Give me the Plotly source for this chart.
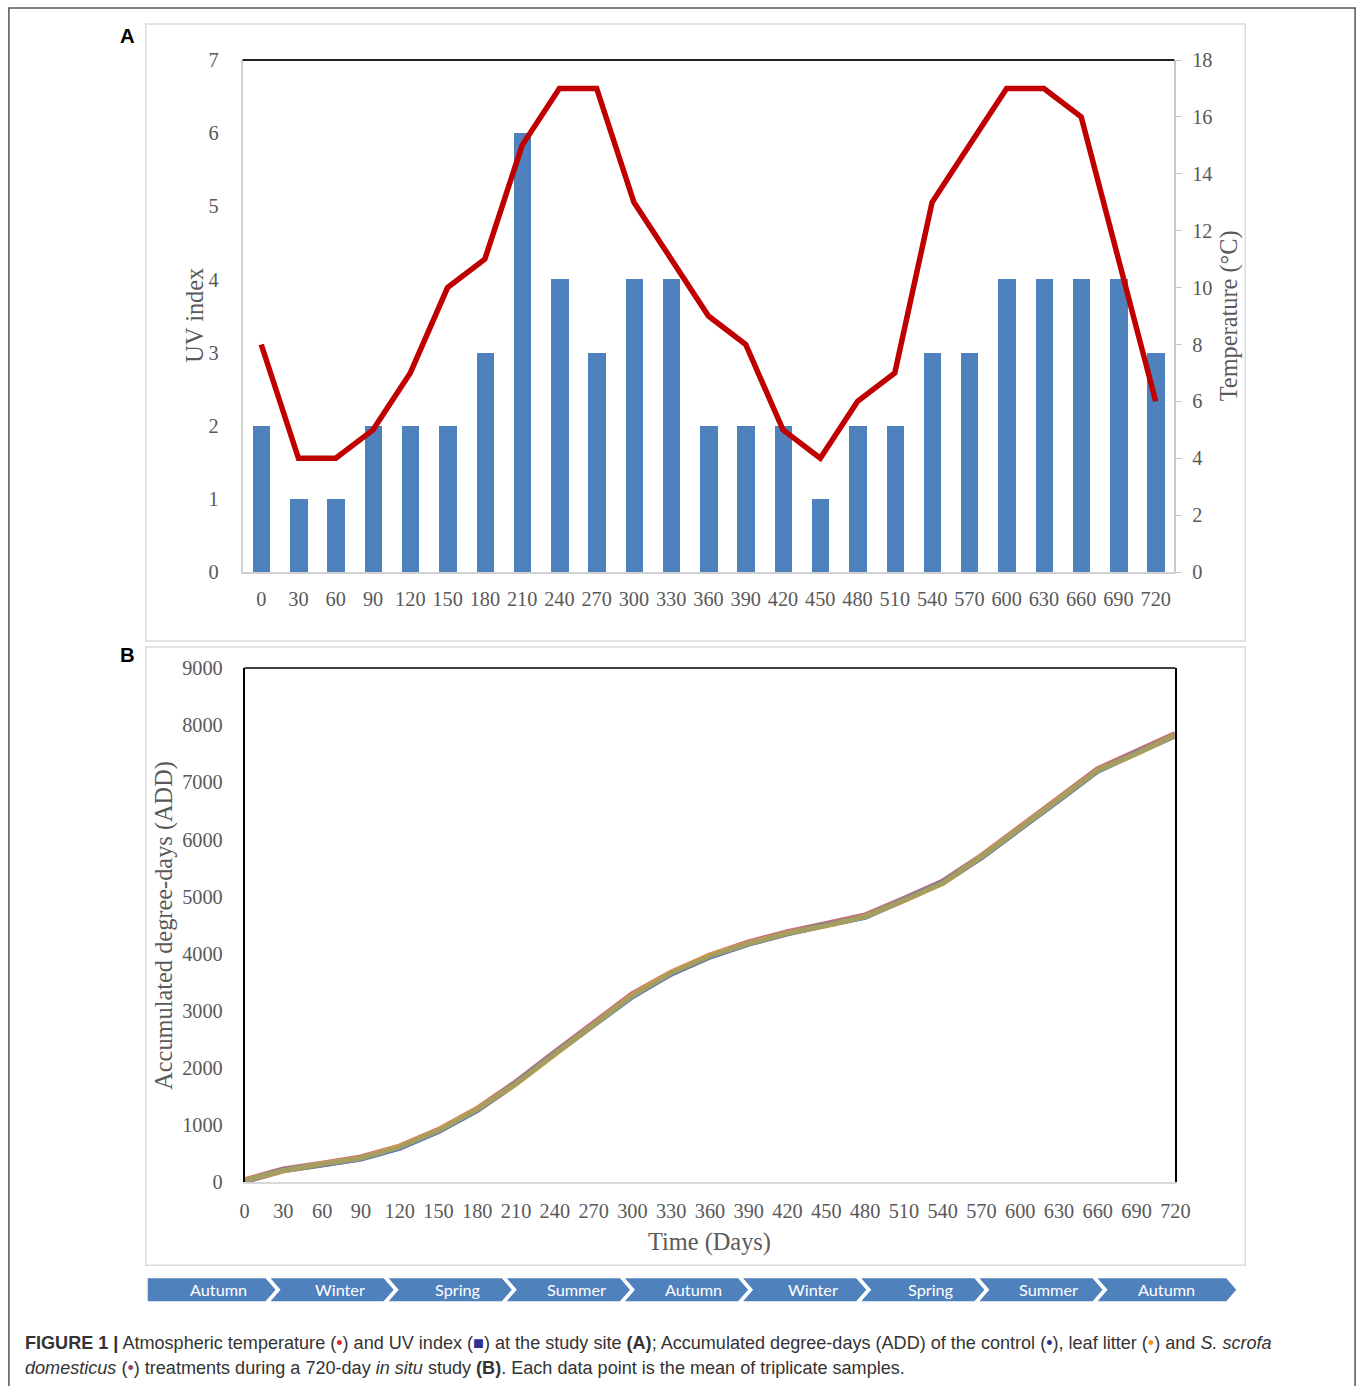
import plotly.graph_objects as go

# sampling days (x axis of both panels)
days = list(range(0, 721, 30))

# panel A
uv_index = [2, 1, 1, 2, 2, 2, 3, 6, 4, 3, 4, 4, 2, 2, 2, 1, 2, 2, 3, 3, 4, 4, 4, 4, 3]
temperature = [8, 4, 4, 5, 7, 10, 11, 15, 17, 17, 13, 11, 9, 8, 5, 4, 6, 7, 13, 15, 17, 17, 16, 11, 6]

# panel B, accumulated degree-days
add_control = [20, 210, 310, 410, 600, 890, 1260, 1730, 2250, 2760, 3250, 3650, 3950, 4170, 4350, 4500, 4640, 4940, 5240, 5690, 6180, 6690, 7200, 7510, 7820]
add_leaf = [30, 200, 320, 420, 620, 910, 1280, 1720, 2240, 2750, 3270, 3670, 3970, 4180, 4360, 4490, 4650, 4930, 5230, 5700, 6200, 6700, 7210, 7500, 7830]
add_scrofa = [25, 215, 315, 425, 615, 905, 1275, 1740, 2260, 2770, 3280, 3660, 3960, 4190, 4370, 4510, 4660, 4950, 5250, 5700, 6190, 6710, 7220, 7520, 7840]

seasons = ["Autumn", "Winter", "Spring", "Summer", "Autumn", "Winter", "Spring", "Summer", "Autumn"]

W, H = 1360, 1386
# the photographed page comes out slightly shrunk and shifted; undo that here
AX, BX = 0.9866, 4.1
AY, BY = 0.984, 11.0
FS = 1 / 0.985

GREY_TXT = "#595959"
SERIF = "Liberation Serif, Times New Roman, serif"
BAR_BLUE = "#4f81bd"


def px(x):
    return ((x - BX) / AX) / W


def py(y):
    return 1 - ((y - BY) / AY) / H


fig = go.Figure()

fig.add_trace(go.Bar(x=days, y=uv_index, width=14, marker=dict(color=BAR_BLUE, line_width=0),
                     xaxis="x", yaxis="y", name="UV index"))
fig.add_trace(go.Scatter(x=days, y=temperature, mode="lines", line=dict(color="#c00000", width=5.5),
                         xaxis="x", yaxis="y2", name="Temperature"))

fig.add_trace(go.Scatter(x=days, y=add_scrofa, mode="lines", line=dict(color="#c0707a", width=7),
                         xaxis="x2", yaxis="y3", name="S. scrofa domesticus"))
fig.add_trace(go.Scatter(x=days, y=add_control, mode="lines", line=dict(color="#4a7cc4", width=5.5),
                         xaxis="x2", yaxis="y3", name="Control"))
fig.add_trace(go.Scatter(x=days, y=add_leaf, mode="lines", line=dict(color="#ffc000", width=5.5),
                         opacity=0.5, xaxis="x2", yaxis="y3", name="Leaf litter"))

tick_font = dict(family=SERIF, size=20 * FS, color=GREY_TXT)

fig.update_layout(
    width=W, height=H,
    margin=dict(l=0, r=0, t=0, b=0),
    paper_bgcolor="white", plot_bgcolor="white",
    showlegend=False,
    bargap=0,
    xaxis=dict(domain=[px(242), px(1175)], range=[-15, 735], anchor="y",
               tickmode="array", tickvals=days, ticktext=[str(d) for d in days],
               tickfont=tick_font, showgrid=False, zeroline=False,
               showline=True, linecolor="#d0d0d0", linewidth=1.5, ticklabelstandoff=8),
    yaxis=dict(domain=[py(572), py(60)], range=[0, 7], dtick=1, anchor="x",
               tickfont=tick_font, showgrid=False, zeroline=False,
               showline=True, linecolor="#d0d0d0", linewidth=1.5, ticklabelstandoff=18),
    yaxis2=dict(overlaying="y", side="right", range=[0, 18], dtick=2, anchor="x",
                tickfont=tick_font, showgrid=False, zeroline=False,
                showline=True, linecolor="#c8c8c8", linewidth=1.5,
                ticks="outside", ticklen=6, tickcolor="#c8c8c8", ticklabelstandoff=6),
    xaxis2=dict(domain=[px(244), px(1176)], range=[0, 720], anchor="y3",
                tickmode="array", tickvals=days, ticktext=[str(d) for d in days],
                tickfont=tick_font, showgrid=False, zeroline=False,
                showline=True, linecolor="#d9d9d9", linewidth=1.5, ticklabelstandoff=10),
    yaxis3=dict(domain=[py(1182), py(668)], range=[0, 9000], dtick=1000, anchor="x2",
                tickfont=tick_font, showgrid=False, zeroline=False,
                showline=True, mirror=True, linecolor="black", linewidth=1.5,
                ticklabelstandoff=16),
)

shapes = [
    # outer figure frame
    dict(type="rect", xref="paper", yref="paper", x0=px(8), x1=px(1356), y0=py(1400), y1=py(8),
         line=dict(color="#555555", width=1.5)),
    # panel frames
    dict(type="rect", xref="paper", yref="paper", x0=px(145), x1=px(1246), y0=py(641), y1=py(24),
         line=dict(color="#dcdcdc", width=1.5)),
    dict(type="rect", xref="paper", yref="paper", x0=px(145), x1=px(1246), y0=py(1265), y1=py(647),
         line=dict(color="#dcdcdc", width=1.5)),
    # top borders of the plot areas
    dict(type="line", xref="x domain", yref="y domain", x0=0, x1=1, y0=1, y1=1,
         line=dict(color="#222222", width=2)),
    dict(type="line", xref="x2 domain", yref="y3 domain", x0=0, x1=1, y0=1, y1=1,
         line=dict(color="black", width=1.5)),
]

annotations = []

# season chevrons
top, bot = 1278, 1301
mid = (top + bot) / 2
rights = [265 + 118.3 * i for i in range(8)] + [1227]
text_x = [218, 340, 458, 576, 694, 813, 931, 1049, 1167]
for i, name in enumerate(seasons):
    r = rights[i]
    left = 147 if i == 0 else rights[i - 1] + 5
    pts = [(left, top), (r, top), (r + 10, mid), (r, bot), (left, bot)]
    if i > 0:
        pts.append((left + 10, mid))
    path = "M " + " L ".join(f"{px(a):.5f},{py(b):.5f}" for a, b in pts) + " Z"
    shapes.append(dict(type="path", xref="paper", yref="paper", path=path,
                       fillcolor=BAR_BLUE, line=dict(width=0)))
    annotations.append(dict(x=px(text_x[i]), y=py(mid), xref="paper", yref="paper", text=name,
                            showarrow=False, xanchor="center", yanchor="middle",
                            font=dict(family="Lato, Open Sans, sans-serif", size=16 * FS, color="white")))

title_font = dict(family=SERIF, size=24 * FS, color=GREY_TXT)
label_font = dict(family="Liberation Sans, Arial", size=20 * FS, color="black")
annotations += [
    dict(x=px(127), y=py(36), text="<b>A</b>", font=label_font),
    dict(x=px(127), y=py(655), text="<b>B</b>", font=label_font),
    dict(x=px(193), y=py(315), text="UV index", textangle=-90, font=title_font),
    dict(x=px(1230), y=py(316), text="Temperature (°C)", textangle=-90, font=title_font),
    dict(x=px(163), y=py(925), text="Accumulated degree-days (ADD)", textangle=-90, font=title_font),
    dict(x=px(710), y=py(1242), text="Time (Days)", font=title_font),
]
for a in annotations[-6:]:
    a.update(xref="paper", yref="paper", showarrow=False, xanchor="center", yanchor="middle")

cap_font = dict(family="Liberation Sans, Arial", size=17.8 * FS, color="#333333")
caption_1 = ('<b>FIGURE 1 |</b> Atmospheric temperature (<span style="color:#e3242b">•</span>) and UV index '
             '(<span style="color:#2e3192">■</span>) at the study site <b>(A)</b>; Accumulated degree-days (ADD) '
             'of the control (<span style="color:#2e3192">•</span>), leaf litter '
             '(<span style="color:#f7931e">•</span>) and <i>S. scrofa</i>')
caption_2 = ('<i>domesticus</i> (<span style="color:#8e4b6e">•</span>) treatments during a 720-day '
             '<i>in situ</i> study <b>(B)</b>. Each data point is the mean of triplicate samples.')
annotations += [
    dict(x=px(22), y=py(1343), xref="paper", yref="paper", text=caption_1, showarrow=False,
         xanchor="left", yanchor="middle", font=cap_font),
    dict(x=px(22), y=py(1368), xref="paper", yref="paper", text=caption_2, showarrow=False,
         xanchor="left", yanchor="middle", font=cap_font),
]

fig.update_layout(shapes=shapes, annotations=annotations)

fig.write_html(
    "out.html",
    config={"displayModeBar": False},
    post_script="document.body.style.margin='0';",
)
